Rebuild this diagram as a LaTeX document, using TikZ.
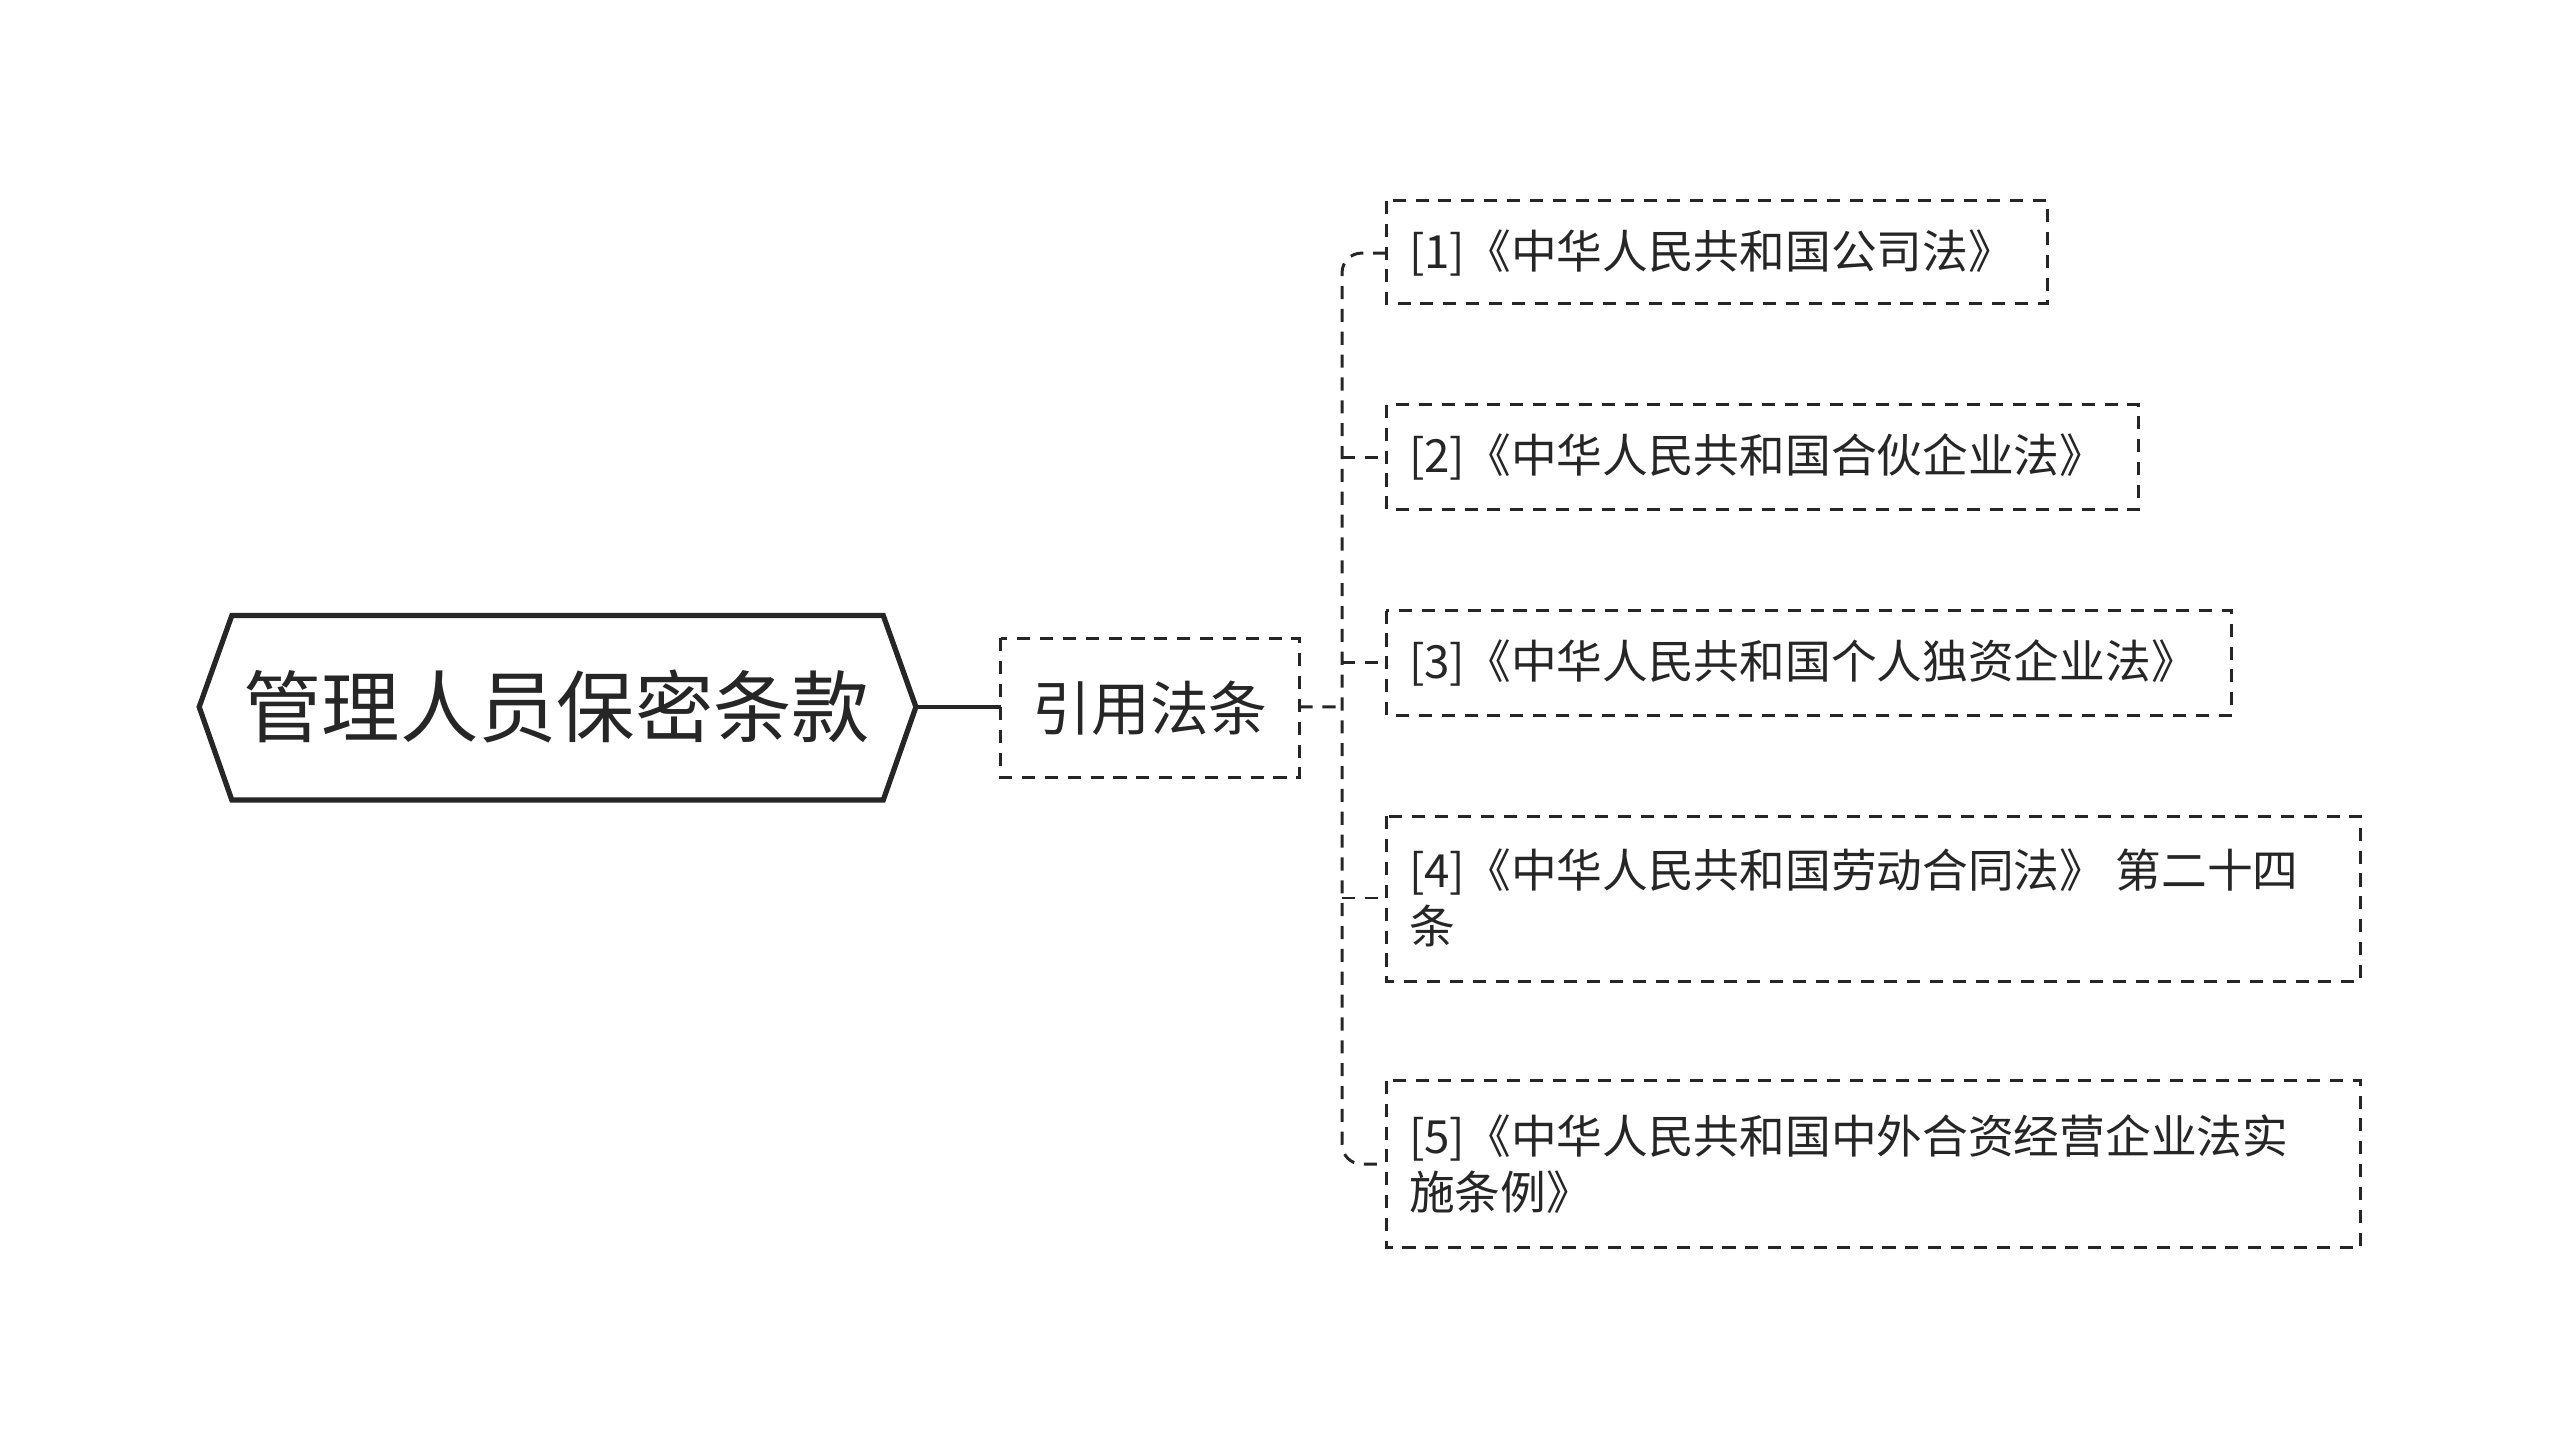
\documentclass[tikz,border=0pt]{standalone}
\usepackage{fontspec}
\setmainfont{Noto Sans CJK SC}
\begin{document}
\begin{tikzpicture}[x=0.5pt,y=-0.5pt,
  dbox/.style={draw=black!85,dashed,line width=0.9pt,dash pattern=on 4pt off 3pt},
  conn/.style={draw=black!85,line width=0.9pt,dash pattern=on 4pt off 3pt},
  ctext/.style={anchor=west,font=\fontsize{14pt}{17pt}\selectfont,text=black!85,align=left}]
\useasboundingbox (0,0) rectangle (1568,890.5);
% root
\draw[line width=1.6pt,black!85] (122,433)--(142,377)--(541,377)--(561,433)--(541,490)--(142,490)--cycle;
\node (root) at (341,433) {\fontsize{24pt}{28pt}\selectfont\color{black!85}管理人员保密条款};
\coordinate (rootE) at (561,433);
% level 1
\draw[dbox] (613,391) rectangle (796,476);
\node (l1) at (704.5,433.5) {\fontsize{18pt}{22pt}\selectfont\color{black!85}引用法条};
\coordinate (l1W) at (613,433);
\coordinate (l1E) at (796,433);
\draw[line width=1.2pt,black!85] (rootE)--(l1W);
% children boxes
\draw[dbox] (849,123) rectangle (1254,186);
\draw[dbox] (849,248) rectangle (1310,312);
\draw[dbox] (849,374) rectangle (1367,438);
\draw[dbox] (849,500) rectangle (1446,601);
\draw[dbox] (849,662) rectangle (1446,764);
\node[ctext] (c1) at (856,155) {[1]《中华人民共和国公司法》};
\node[ctext] (c2) at (856,280) {[2]《中华人民共和国合伙企业法》};
\node[ctext] (c3) at (856,406) {[3]《中华人民共和国个人独资企业法》};
\node[ctext] (c4) at (856,550) {[4]《中华人民共和国劳动合同法》 第二十四\\条};
\node[ctext] (c5) at (856,713) {[5]《中华人民共和国中外合资经营企业法实\\施条例》};
\coordinate (t) at (822,433);
\draw[conn,rounded corners=6pt] (l1E)--(t) (849,155)--(822,155)--(822,713)--(849,713);
\draw[conn] (822,280)--(849,280) (822,406)--(849,406) (822,550)--(849,550);
\end{tikzpicture}
\end{document}
